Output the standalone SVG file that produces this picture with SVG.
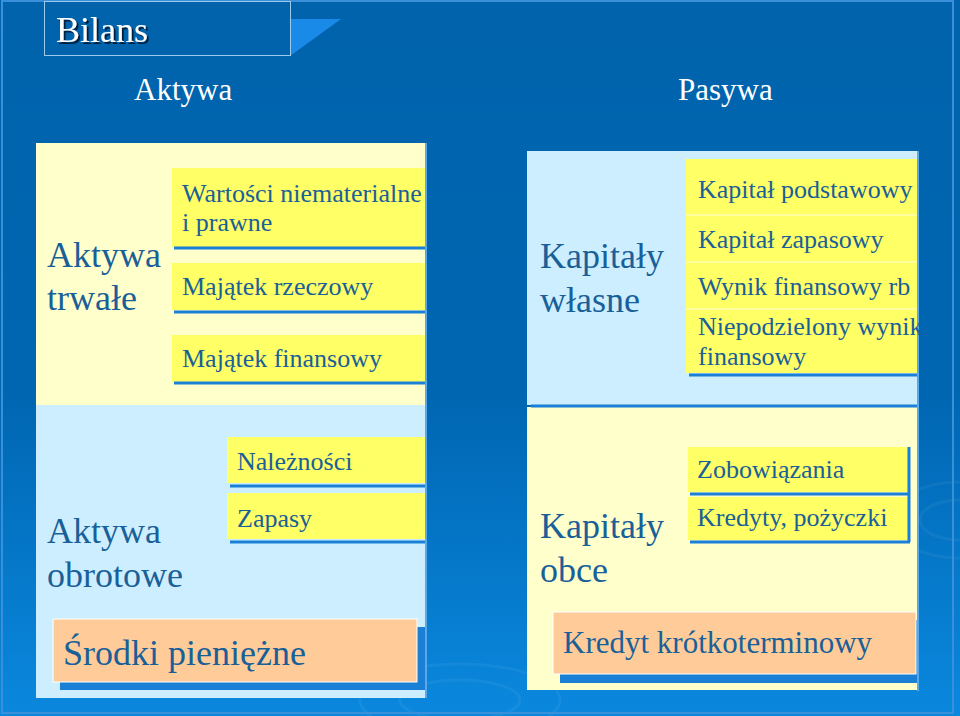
<svg xmlns="http://www.w3.org/2000/svg" width="960" height="716" viewBox="0 0 960 716">
<defs>
<linearGradient id="bg" x1="0" y1="0" x2="0" y2="1">
<stop offset="0" stop-color="#0063AC"/>
<stop offset="0.55" stop-color="#0066B2"/>
<stop offset="1" stop-color="#0A88DE"/>
</linearGradient>
<clipPath id="slide"><rect x="0" y="0" width="960" height="716"/></clipPath>
<filter id="tshadow" x="-10%" y="-20%" width="130%" height="150%">
<feDropShadow dx="2" dy="2" stdDeviation="0.3" flood-color="#002040" flood-opacity="1"/>
</filter>
</defs>
<style>
text{font-family:"Liberation Serif","Times New Roman",serif;fill:#1A6098}
.big{font-size:36px}
.mid{font-size:26px}
.head{font-size:31px;fill:#FFFFFF}
.ly{fill:#FFFFCC}
.lb{fill:#CCEEFF}
.item{fill:#FFFF66}
.orange{fill:#FFCC99;stroke:#FFFFFF;stroke-width:1}
.shadow{fill:#1A80D6}
.uline{stroke:#1A7FD6;stroke-width:3;fill:none}
.sep{stroke:#FFFFD8;stroke-width:1;fill:none}
</style>
<rect x="0" y="0" width="960" height="716" fill="url(#bg)"/>
<g id="decor" clip-path="url(#slide)" fill="none" stroke="#FFFFFF" stroke-opacity="0.05" stroke-width="3">
<ellipse cx="960" cy="520" rx="40" ry="20"/>
<ellipse cx="960" cy="520" rx="70" ry="38"/>
<ellipse cx="460" cy="700" rx="60" ry="20"/>
<ellipse cx="460" cy="700" rx="100" ry="36"/>
</g>
<rect x="2" y="1" width="951" height="712" fill="none" stroke="#3A90D8" stroke-width="2"/>

<g id="title">
<polygon points="290,19 341,19 290,56" fill="#1A8AE8"/>
<rect x="44.5" y="1.5" width="246" height="54" fill="#0063AC" stroke="#9BCBEF" stroke-width="1"/>
<text x="56" y="42" filter="url(#tshadow)" style="font-size:36px;fill:#FFFFFF">Bilans</text>
</g>

<g id="header-aktywa"><text class="head" x="134" y="100">Aktywa</text></g>
<g id="header-pasywa"><text class="head" x="678" y="100">Pasywa</text></g>

<g id="aktywa-trwale">
<rect class="ly" x="36" y="143" width="389" height="262"/>
<rect x="425" y="143" width="2" height="262" fill="#5AA8E8"/>
<text class="big" x="47" y="267">Aktywa</text>
<text class="big" x="47" y="310">trwałe</text>
</g>
<g id="wartosci-niematerialne">
<rect class="item" x="172" y="168" width="253" height="79"/>
<line class="uline" x1="174" y1="248" x2="425" y2="248"/>
<text class="mid" x="182" y="202">Wartości niematerialne</text>
<text class="mid" x="182" y="231">i prawne</text>
</g>
<g id="majatek-rzeczowy">
<rect class="item" x="172" y="263" width="253" height="47"/>
<line class="uline" x1="174" y1="312" x2="425" y2="312"/>
<text class="mid" x="182" y="295">Majątek rzeczowy</text>
</g>
<g id="majatek-finansowy">
<rect class="item" x="172" y="335" width="253" height="47"/>
<line class="uline" x1="174" y1="383" x2="425" y2="383"/>
<text class="mid" x="182" y="367">Majątek finansowy</text>
</g>

<g id="aktywa-obrotowe">
<rect class="lb" x="36" y="405" width="389" height="293"/>
<rect x="425" y="405" width="2" height="293" fill="#5AA8E8"/>
<text class="big" x="47" y="543">Aktywa</text>
<text class="big" x="47" y="587">obrotowe</text>
</g>
<g id="naleznosci">
<rect class="item" x="227" y="437" width="198" height="46"/>
<line class="uline" x1="230" y1="486" x2="425" y2="486"/>
<text class="mid" x="237" y="470">Należności</text>
</g>
<g id="zapasy">
<rect class="item" x="227" y="493" width="198" height="46"/>
<line class="uline" x1="230" y1="542" x2="425" y2="542"/>
<text class="mid" x="237" y="527">Zapasy</text>
</g>
<g id="srodki-pieniezne">
<rect class="shadow" x="60" y="627" width="365" height="63"/>
<rect class="orange" x="53" y="619" width="364" height="63"/>
<text class="big" x="63" y="665">Środki pieniężne</text>
</g>

<g id="kapitaly-wlasne">
<rect class="lb" x="527" y="151" width="390" height="254"/>
<rect x="917" y="151" width="2" height="540" fill="#5AA8E8"/>
<text class="big" x="540" y="268">Kapitały</text>
<text class="big" x="540" y="312">własne</text>
</g>
<g id="kapital-podstawowy">
<rect class="item" x="686" y="159" width="231" height="56"/>
<text class="mid" x="698" y="198">Kapitał podstawowy</text>
</g>
<g id="kapital-zapasowy">
<rect class="item" x="686" y="215" width="231" height="47"/>
<text class="mid" x="698" y="248">Kapitał zapasowy</text>
</g>
<g id="wynik-finansowy">
<rect class="item" x="686" y="262" width="231" height="47"/>
<text class="mid" x="698" y="295">Wynik finansowy rb</text>
</g>
<g id="niepodzielony-wynik">
<rect class="item" x="686" y="309" width="231" height="64"/>
<line class="uline" x1="689" y1="375" x2="917" y2="375"/>
<text class="mid" x="698" y="335">Niepodzielony wynik</text>
<text class="mid" x="698" y="365">finansowy</text>
<line class="sep" x1="686" y1="215" x2="917" y2="215"/>
<line class="sep" x1="686" y1="262" x2="917" y2="262"/>
<line class="sep" x1="686" y1="309" x2="917" y2="309"/>
</g>

<g id="kapitaly-obce">
<rect class="ly" x="527" y="407" width="390" height="283"/>
<line class="uline" x1="531" y1="406" x2="917" y2="406"/>
<text class="big" x="540" y="538">Kapitały</text>
<text class="big" x="540" y="582">obce</text>
</g>
<g id="zobowiazania">
<rect class="item" x="688" y="447" width="220" height="45"/>
<line class="uline" x1="690" y1="494" x2="909" y2="494"/>
<text class="mid" x="697" y="478">Zobowiązania</text>
</g>
<g id="kredyty-pozyczki">
<rect class="item" x="688" y="497" width="220" height="43"/>
<line class="uline" x1="690" y1="542" x2="910" y2="542"/>
<line class="uline" x1="909" y1="447" x2="909" y2="542"/>
<text class="mid" x="697" y="526">Kredyty, pożyczki</text>
</g>
<g id="kredyt-krotkoterminowy">
<rect class="shadow" x="560" y="620" width="357" height="63"/>
<rect class="orange" x="553" y="612" width="363" height="62"/>
<text x="563" y="653" style="font-size:31px">Kredyt krótkoterminowy</text>
</g>
</svg>
